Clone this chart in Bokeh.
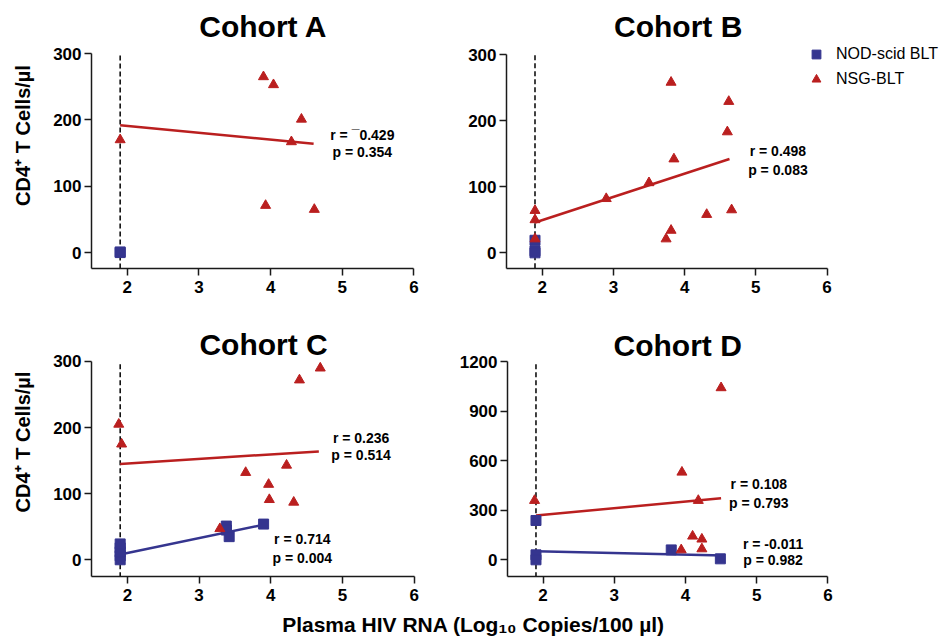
from bokeh.plotting import figure
from bokeh.models import Label, Legend, LegendItem, FixedTicker, Range1d
from bokeh.layouts import column, row
from bokeh.embed import file_html
from bokeh.resources import INLINE

# ---------------- data ----------------
x_ticks = [2, 3, 4, 5, 6]
y_ticks_abc = [0, 100, 200, 300]
y_ticks_d = [0, 300, 600, 900, 1200]
detection_limit = 1.9

titles = ["Cohort A", "Cohort B", "Cohort C", "Cohort D"]
legend_labels = ["NOD-scid BLT", "NSG-BLT"]
y_label = "CD4\u207a T Cells/\u00b5l"
x_label = "Plasma HIV RNA (Log\u2081\u2080 Copies/100 \u00b5l)"

# Cohort A
a_nsg_x = [1.9, 3.90, 4.04, 4.43, 4.29, 3.93, 4.61]
a_nsg_y = [170, 265, 253, 201, 167, 71, 65]
a_nod_x = [1.9, 1.9]
a_nod_y = [0, 1]
a_nsg_fit_x = [1.9, 4.6]
a_nsg_fit_y = [192, 164]
a_nsg_stats = ["r = \u00af0.429", "p = 0.354"]

# Cohort B
b_nsg_x = [1.9, 1.9, 1.9, 2.90, 3.50, 3.81, 3.85, 4.62, 4.60, 4.31, 4.66, 3.74, 3.81]
b_nsg_y = [64, 50, 21, 82, 106, 258, 142, 229, 183, 58, 65, 21, 34]
b_nod_x = [1.9, 1.9, 1.9]
b_nod_y = [19, 3, 0]
b_nsg_fit_x = [1.9, 4.63]
b_nsg_fit_y = [46, 142]
b_nsg_stats = ["r = 0.498", "p = 0.083"]

# Cohort C
c_nsg_x = [1.88, 1.92, 4.69, 4.40, 4.22, 3.65, 3.97, 3.98, 4.32, 3.29]
c_nsg_y = [205, 175, 290, 272, 143, 132, 114, 91, 87, 47]
c_nod_x = [1.9, 1.9, 1.9, 1.9, 1.9, 3.38, 3.38, 3.42, 3.90]
c_nod_y = [0, 6, 12, 18, 24, 51, 45, 35, 54]
c_nsg_fit_x = [1.9, 4.67]
c_nsg_fit_y = [145, 164]
c_nod_fit_x = [1.9, 3.9]
c_nod_fit_y = [8, 53]
c_nsg_stats = ["r = 0.236", "p = 0.514"]
c_nod_stats = ["r = 0.714", "p = 0.004"]

# Cohort D
d_nsg_x = [1.88, 4.50, 3.95, 4.18, 4.10, 4.23, 4.23, 3.94]
d_nsg_y = [359, 1041, 530, 359, 143, 125, 66, 60]
d_nod_x = [1.9, 1.9, 1.9, 3.80, 4.49]
d_nod_y = [238, 30, 0, 60, 6]
d_nsg_fit_x = [1.9, 4.5]
d_nsg_fit_y = [268, 373]
d_nod_fit_x = [1.9, 4.53]
d_nod_fit_y = [52, 26]
d_nsg_stats = ["r = 0.108", "p = 0.793"]
d_nod_stats = ["r = -0.011", "p = 0.982"]

# ---------------- style ----------------
FONT = "Liberation Sans"
RED = "#BA1F1F"
BLUE = "#35358F"
AXC = "#1a1a1a"


def panel(width, height, xr, yr, ybounds, yticks, left, bottom, ylab=None):
    p = figure(width=width, height=height, x_range=Range1d(*xr), y_range=Range1d(*yr),
               output_backend="svg", toolbar_location=None,
               min_border_left=left, min_border_right=2,
               min_border_top=2, min_border_bottom=bottom)
    p.xgrid.visible = False
    p.ygrid.visible = False
    p.outline_line_color = None
    p.xaxis.ticker = FixedTicker(ticks=x_ticks)
    p.yaxis.ticker = FixedTicker(ticks=yticks)
    p.xaxis.bounds = (xr[0], x_ticks[-1])
    p.yaxis.bounds = ybounds
    for ax in (p.xaxis, p.yaxis):
        ax.axis_line_color = AXC
        ax.axis_line_width = 1.5
        ax.major_tick_line_color = AXC
        ax.major_tick_line_width = 1.5
        ax.major_tick_out = 7
        ax.major_tick_in = 0
        ax.minor_tick_line_color = None
        ax.major_label_text_font = FONT
        ax.major_label_text_font_style = "bold"
        ax.major_label_text_font_size = "17px"
        ax.major_label_text_color = "black"
    p.xaxis.major_label_standoff = 5
    p.yaxis.major_label_standoff = 3
    if ylab:
        p.yaxis.axis_label = ylab
        p.yaxis.axis_label_text_font = FONT
        p.yaxis.axis_label_text_font_style = "bold"
        p.yaxis.axis_label_text_font_size = "20px"
        p.yaxis.axis_label_text_color = "black"
        p.yaxis.axis_label_standoff = 16
    # detection limit reference line
    p.line([detection_limit, detection_limit], [ybounds[0] * 2, ybounds[1]],
           line_color="black", line_width=1.5, line_dash="5 3")
    return p


def title(p, text, x, y):
    p.add_layout(Label(x=x, y=y, text=text, text_font=FONT, text_font_style="bold",
                       text_font_size="30px", text_align="center", text_baseline="middle",
                       text_color="black"))


def stats(p, lines, x, y1, y2):
    for t, yy in zip(lines, (y1, y2)):
        p.add_layout(Label(x=x, y=yy, text=t, text_font=FONT, text_font_style="bold",
                           text_font_size="14px", text_align="center", text_baseline="middle",
                           text_color="black"))


def draw(p, nod_x, nod_y, nsg_x, nsg_y, fits):
    for fx, fy, col in fits:
        p.line(fx, fy, line_color=col, line_width=2.5)
    r_nod = p.scatter(nod_x, nod_y, marker="square", size=10, fill_color=BLUE, line_color=BLUE)
    r_nsg = p.scatter(nsg_x, nsg_y, marker="triangle", size=10, fill_color=RED, line_color=RED)
    return r_nod, r_nsg


# Cohort A
pa = panel(420, 305, (1.5, 6.064), (-24, 377), (-24, 300), y_ticks_abc, 91, 37, ylab=y_label)
draw(pa, a_nod_x, a_nod_y, a_nsg_x, a_nsg_y, [(a_nsg_fit_x, a_nsg_fit_y, RED)])
title(pa, titles[0], 3.90, 341)
stats(pa, a_nsg_stats, 5.28, 178, 151)

# Cohort B
pb = panel(524, 305, (1.5, 7.62), (-23.7, 378.8), (-23.7, 300), y_ticks_abc, 86, 36)
rb_nod, rb_nsg = draw(pb, b_nod_x, b_nod_y, b_nsg_x, b_nsg_y, [(b_nsg_fit_x, b_nsg_fit_y, RED)])
title(pb, titles[1], 3.91, 343)
stats(pb, b_nsg_stats, 5.31, 154, 126)
legend = Legend(items=[LegendItem(label=legend_labels[0], renderers=[rb_nod]),
                       LegendItem(label=legend_labels[1], renderers=[rb_nsg])],
                location=(299, 178), orientation="vertical")
legend.border_line_color = None
legend.background_fill_alpha = 0
legend.label_text_font = FONT
legend.label_text_font_size = "16px"
legend.label_text_color = "black"
legend.glyph_width = 22
legend.glyph_height = 22
legend.label_height = 22
legend.label_standoff = 9
legend.spacing = 3
legend.padding = 0
legend.margin = 0
pb.add_layout(legend)

# Cohort C
pc = panel(420, 305, (1.5, 6.06), (-25.3, 381.7), (-25.3, 300), y_ticks_abc, 91, 34, ylab=y_label)
draw(pc, c_nod_x, c_nod_y, c_nsg_x, c_nsg_y,
     [(c_nsg_fit_x, c_nsg_fit_y, RED), (c_nod_fit_x, c_nod_fit_y, BLUE)])
title(pc, titles[2], 3.90, 325)
stats(pc, c_nsg_stats, 5.26, 185, 158)
stats(pc, c_nod_stats, 4.44, 31, 3)

# Cohort D
pd_ = panel(524, 305, (1.5, 7.61), (-101, 1527), (-101, 1200), y_ticks_d, 87, 34)
draw(pd_, d_nod_x, d_nod_y, d_nsg_x, d_nsg_y,
     [(d_nsg_fit_x, d_nsg_fit_y, RED), (d_nod_fit_x, d_nod_fit_y, BLUE)])
title(pd_, titles[3], 3.89, 1300)
stats(pd_, d_nsg_stats, 5.03, 456, 345)
stats(pd_, d_nod_stats, 5.23, 97, -4)

# shared x label
px = figure(width=944, height=29, x_range=Range1d(0, 944), y_range=Range1d(0, 29),
            output_backend="svg", toolbar_location=None, x_axis_type=None, y_axis_type=None,
            min_border=0)
px.outline_line_color = None
px.xgrid.visible = False
px.ygrid.visible = False
px.add_layout(Label(x=473, y=15, text=x_label, text_font=FONT, text_font_style="bold",
                    text_font_size="21px", text_align="center", text_baseline="middle",
                    text_color="black"))

layout = column(row(pa, pb, spacing=0), row(pc, pd_, spacing=0), px, spacing=0)
open("out.html", "w").write(file_html(layout, INLINE))
